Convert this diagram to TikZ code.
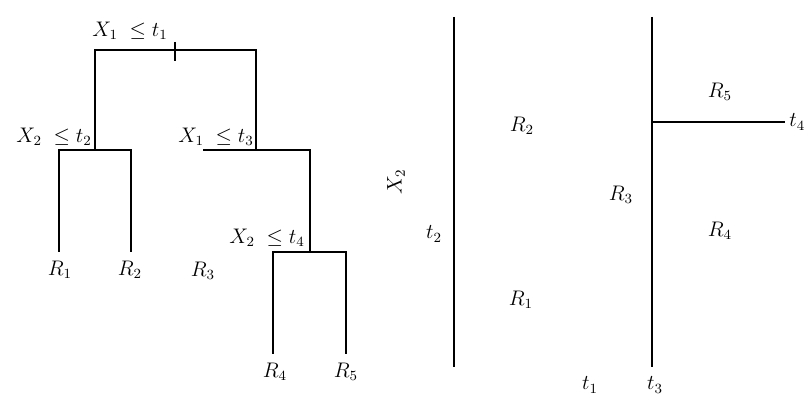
\documentclass[tikz,border=0pt]{standalone}
\usepackage{amsmath,amssymb}
\usepackage{tikz}
\usetikzlibrary{positioning, calc}

\begin{document}
\begin{tikzpicture}[x=0.2mm, y=-0.2mm, line width=0.9pt,
    split/.style={inner sep=1pt, font=\large},
    leaf/.style={inner sep=1pt, font=\large}]
            \useasboundingbox (0,0) rectangle (809,398);

            % Tree
            \coordinate (n1) at (175,50);
            \coordinate (n1l) at (95,50);
            \coordinate (n1r) at (256,50);
            \coordinate (n2l) at (59,150);
            \coordinate (n2r) at (131,150);
            \coordinate (n3l) at (203,150);
            \coordinate (n3r) at (310,150);
            \coordinate (n4l) at (273,252);
            \coordinate (n4r) at (346,252);

            \draw (n1l |- n2l) -- (n1l) -- (n1r) -- (n1r |- n3r);
            \draw ($(n1)+(0,-8)$) -- ($(n1)+(0,11)$);
            \draw (n2l |- n4l) -- (n2l) -- (n2r) -- (n2r |- n4l);
            \draw (n3l) -- (n3r) -- (n3r |- n4r);
            \draw (n4l |- 0,354) -- (n4l) -- (n4r) -- (n4r |- 0,354);

            \node[split] (s1) at (130,31) {$X_1\;\leq t_1$};
            \node[split] (s2) at (54,137) {$X_2\;\leq t_2$};
            \node[split] (s3) at (216,137) {$X_1\;\leq t_3$};
            \node[split] (s4) at (267,238) {$X_2\;\leq t_4$};

            \node[leaf] (l1) at (60,270) {$R_1$};
            \node[leaf] (l2) at (130,270) {$R_2$};
            \node[leaf] (l3) at (203,271) {$R_3$};
            \node[leaf] (l4) at (275,372) {$R_4$};
            \node[leaf] (l5) at (346,372) {$R_5$};

            % Partition
            \coordinate (v1) at (454,17);
            \coordinate (v2) at (652,17);
            \coordinate (h1) at (785,122);
            \draw (v1) -- (v1 |- 0,367);
            \draw (v2) -- (v2 |- 0,367);
            \draw (v2 |- h1) -- (h1);

            \node[leaf] (p1) at (521,300) {$R_1$};
            \node[leaf] (p2) at (522,126) {$R_2$};
            \node[leaf] (p3) at (621,195) {$R_3$};
            \node[leaf] (p4) at (720,231) {$R_4$};
            \node[leaf] (p5) at (720,92) {$R_5$};

            \node[leaf, rotate=90] (ax) at (396,182) {$X_2$};
            \node[leaf] (t2) at (434,234) {$t_2$};
            \node[leaf] (t1) at (590,385) {$t_1$};
            \node[leaf] (t3) at (655,385) {$t_3$};
            \node[leaf, right=1pt of h1] (t4) {$t_4$};
        \end{tikzpicture}
\end{document}
